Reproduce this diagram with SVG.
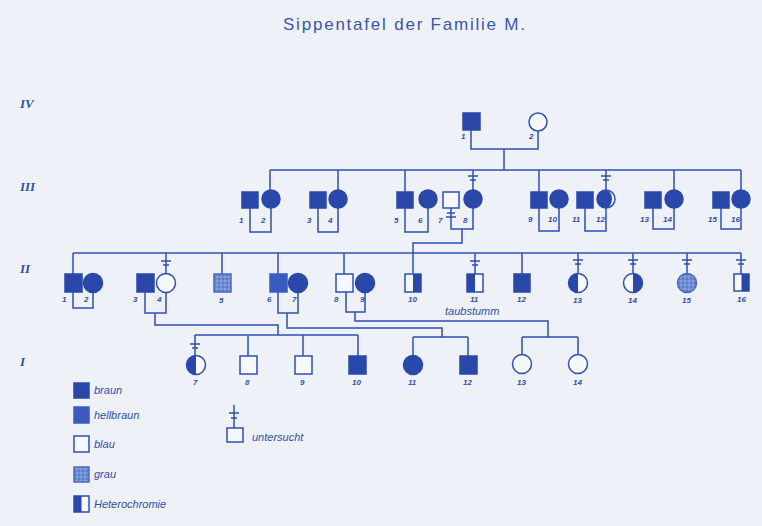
<svg xmlns="http://www.w3.org/2000/svg" width="762" height="526" viewBox="0 0 762 526">
<style>
.ln{fill:none;stroke:#2f4fb4;stroke-width:1.5}
.f{fill:#2a48aa;stroke:#2a48aa;stroke-width:1.5}
.h{fill:#3a5cc0;stroke:#3a5cc0;stroke-width:1.5}
.o{fill:#f6f8fc;stroke:#2f4fb4;stroke-width:1.5}
.g{fill:url(#stip);stroke:#4a68c0;stroke-width:1.5}
.hf{fill:#2a48aa;stroke:none}
.n{font-family:"Liberation Sans",Arial,sans-serif;font-style:italic;font-weight:bold;font-size:8px;fill:#2f4fb4}
.lg{font-family:"Liberation Sans",Arial,sans-serif;font-style:italic;font-size:11px;fill:#2f4fb4}
.gen{font-family:"Liberation Serif",serif;font-style:italic;font-weight:bold;font-size:13px;fill:#2f4fb4}
</style>
<defs>
<pattern id="stip" width="4" height="4" patternUnits="userSpaceOnUse">
<rect width="4" height="4" fill="#6f8bd2"/>
<circle cx="1" cy="1" r="0.8" fill="#a9bbe6"/>
<circle cx="3" cy="3" r="0.8" fill="#4d6cc4"/>
</pattern>
<path id="mk" d="M-5,0H5M-3,4H3" class="ln"/>
</defs>
<rect width="762" height="526" fill="#eef2f8"/>
<text x="283" y="30" font-family="'Liberation Sans',Arial,sans-serif" font-size="17" fill="#3a55b0" textLength="242">Sippentafel der Familie M.</text>

<g id="gen-labels">
<text class="gen" x="20" y="108">IV</text>
<text class="gen" x="20" y="191">III</text>
<text class="gen" x="20" y="273">II</text>
<text class="gen" x="20" y="366">I</text>
</g>

<g id="connectors">
<!-- Gen IV -->
<path class="ln" d="M471,130V149H538V131M504,149V170"/>
<path class="ln" d="M270,170H741"/>
<path class="ln" d="M270,170V190M338,170V190M405,170V192M473,170V190M539,170V192M606,170V190M674,170V190M741,170V190"/>
<use href="#mk" x="473" y="176"/>
<use href="#mk" x="606" y="176"/>
<!-- Gen III brackets -->
<path class="ln" d="M250,208V232H271V208"/>
<path class="ln" d="M318,208V232H338V208"/>
<path class="ln" d="M405,208V232H428V208"/>
<path class="ln" d="M451,208V222M447,213H455M446,217H456M451,222V229H473V208"/>
<path class="ln" d="M462,229V243H413V273"/>
<path class="ln" d="M539,208V231H559V208"/>
<path class="ln" d="M585,208V231H606V208"/>
<path class="ln" d="M653,208V229H674V208"/>
<path class="ln" d="M721,208V229H741V208"/>
<!-- Gen II sibship -->
<path class="ln" d="M73,253H741"/>
<path class="ln" d="M73,253V274M166,253V273M222,253V274M278,253V274M344,253V274M475,253V274M522,253V274M578,253V273M633,253V273M687,253V273M741,253V274"/>
<use href="#mk" x="166" y="261"/>
<use href="#mk" x="475" y="261"/>
<use href="#mk" x="578" y="260"/>
<use href="#mk" x="633" y="260"/>
<use href="#mk" x="687" y="260"/>
<use href="#mk" x="741" y="260"/>
<!-- Gen II brackets and descents -->
<path class="ln" d="M73,292V308H93V292"/>
<path class="ln" d="M145,292V313H166V292"/>
<path class="ln" d="M155,313V325H278V335"/>
<path class="ln" d="M278,292V313H298V292"/>
<path class="ln" d="M287,313V328H442V337"/>
<path class="ln" d="M346,292V312H365V292"/>
<path class="ln" d="M355,312V321H548V337"/>
<!-- Gen I sibships -->
<path class="ln" d="M195,335H358M195,335V355M248,335V356M303,335V356M358,335V356"/>
<use href="#mk" x="195" y="344"/>
<path class="ln" d="M413,337H468M413,337V355M468,337V356"/>
<path class="ln" d="M522,337H578M522,337V354M578,337V354"/>
</g>

<!-- Gen IV -->
<g id="IV-1"><rect class="f" x="463" y="113" width="17" height="17"/><text class="n" x="461" y="139">1</text></g>
<g id="IV-2"><circle class="o" cx="538" cy="122" r="9"/><text class="n" x="529" y="139">2</text></g>

<!-- Gen III -->
<g id="III-1"><rect class="f" x="242" y="192" width="16" height="16"/><text class="n" x="239" y="223">1</text></g>
<g id="III-2"><circle class="f" cx="271" cy="199" r="9"/><text class="n" x="261" y="223">2</text></g>
<g id="III-3"><rect class="f" x="310" y="192" width="16" height="16"/><text class="n" x="307" y="223">3</text></g>
<g id="III-4"><circle class="f" cx="338" cy="199" r="9"/><text class="n" x="328" y="223">4</text></g>
<g id="III-5"><rect class="f" x="397" y="192" width="16" height="16"/><text class="n" x="394" y="223">5</text></g>
<g id="III-6"><circle class="f" cx="428" cy="199" r="9"/><text class="n" x="418" y="223">6</text></g>
<g id="III-7"><rect class="o" x="443" y="192" width="16" height="16"/><text class="n" x="438" y="223">7</text></g>
<g id="III-8"><circle class="f" cx="473" cy="199" r="9"/><text class="n" x="463" y="223">8</text></g>
<g id="III-9"><rect class="f" x="531" y="192" width="16" height="16"/><text class="n" x="528" y="222">9</text></g>
<g id="III-10"><circle class="f" cx="559" cy="199" r="9"/><text class="n" x="548" y="222">10</text></g>
<g id="III-11"><rect class="f" x="577" y="192" width="16" height="16"/><text class="n" x="572" y="222">11</text></g>
<g id="III-12"><circle class="o" cx="606" cy="199" r="9"/><path class="hf" d="M606,190A9,9 0 0 0 606,208A6,9 0 0 0 606,190Z"/><text class="n" x="596" y="222">12</text></g>
<g id="III-13"><rect class="f" x="645" y="192" width="16" height="16"/><text class="n" x="640" y="222">13</text></g>
<g id="III-14"><circle class="f" cx="674" cy="199" r="9"/><text class="n" x="663" y="222">14</text></g>
<g id="III-15"><rect class="f" x="713" y="192" width="16" height="16"/><text class="n" x="708" y="222">15</text></g>
<g id="III-16"><circle class="f" cx="741" cy="199" r="9"/><text class="n" x="731" y="222">16</text></g>

<!-- Gen II -->
<g id="II-1"><rect class="f" x="65" y="274" width="17" height="18"/><text class="n" x="62" y="302">1</text></g>
<g id="II-2"><circle class="f" cx="93" cy="283" r="9.5"/><text class="n" x="84" y="302">2</text></g>
<g id="II-3"><rect class="f" x="137" y="274" width="17" height="18"/><text class="n" x="133" y="302">3</text></g>
<g id="II-4"><circle class="o" cx="166" cy="283" r="9.5"/><text class="n" x="157" y="302">4</text></g>
<g id="II-5"><rect class="g" x="214" y="274" width="17" height="18"/><text class="n" x="219" y="303">5</text></g>
<g id="II-6"><rect class="h" x="270" y="274" width="17" height="18"/><text class="n" x="267" y="302">6</text></g>
<g id="II-7"><circle class="f" cx="298" cy="283" r="9.5"/><text class="n" x="292" y="302">7</text></g>
<g id="II-8"><rect class="o" x="336" y="274" width="17" height="18"/><text class="n" x="334" y="302">8</text></g>
<g id="II-9"><circle class="f" cx="365" cy="283" r="9.5"/><text class="n" x="360" y="302">9</text></g>
<g id="II-10"><rect class="o" x="405" y="274" width="16" height="18"/><rect class="hf" x="413" y="274" width="8" height="18"/><text class="n" x="408" y="302">10</text></g>
<g id="II-11"><rect class="o" x="467" y="274" width="16" height="18"/><rect class="hf" x="467" y="274" width="8" height="18"/><text class="n" x="470" y="302">11</text>
<text class="lg" x="445" y="315" font-size="10">taubstumm</text></g>
<g id="II-12"><rect class="f" x="514" y="274" width="16" height="18"/><text class="n" x="517" y="302">12</text></g>
<g id="II-13"><circle class="o" cx="578" cy="283" r="9.5"/><path class="hf" d="M578,273.5A9.5,9.5 0 0 0 578,292.5Z"/><text class="n" x="573" y="303">13</text></g>
<g id="II-14"><circle class="o" cx="633" cy="283" r="9.5"/><path class="hf" d="M633,273.5A9.5,9.5 0 0 1 633,292.5Z"/><text class="n" x="628" y="303">14</text></g>
<g id="II-15"><circle class="g" cx="687" cy="283" r="9.5"/><text class="n" x="682" y="303">15</text></g>
<g id="II-16"><rect class="o" x="734" y="274" width="15" height="17"/><rect class="hf" x="741.5" y="274" width="7.5" height="17"/><text class="n" x="737" y="302">16</text></g>

<!-- Gen I -->
<g id="I-7"><circle class="o" cx="196" cy="365" r="9.5"/><path class="hf" d="M196,355.5A9.5,9.5 0 0 0 196,374.5Z"/><text class="n" x="193" y="385">7</text></g>
<g id="I-8"><rect class="o" x="240" y="356" width="17" height="18"/><text class="n" x="245" y="385">8</text></g>
<g id="I-9"><rect class="o" x="295" y="356" width="17" height="18"/><text class="n" x="300" y="385">9</text></g>
<g id="I-10"><rect class="f" x="349" y="356" width="17" height="18"/><text class="n" x="352" y="385">10</text></g>
<g id="I-11"><circle class="f" cx="413" cy="365" r="9.5"/><text class="n" x="408" y="385">11</text></g>
<g id="I-12"><rect class="f" x="460" y="356" width="17" height="18"/><text class="n" x="463" y="385">12</text></g>
<g id="I-13"><circle class="o" cx="522" cy="364" r="9.5"/><text class="n" x="517" y="385">13</text></g>
<g id="I-14"><circle class="o" cx="578" cy="364" r="9.5"/><text class="n" x="573" y="385">14</text></g>

<!-- Legend -->
<g id="legend">
<rect class="f" x="74" y="383" width="15" height="15"/><text class="lg" x="94" y="394">braun</text>
<rect class="h" x="74" y="407" width="15" height="16"/><text class="lg" x="94" y="419">hellbraun</text>
<rect class="o" x="74" y="436" width="15" height="16"/><text class="lg" x="94" y="448">blau</text>
<rect class="g" x="74" y="467" width="15" height="15"/><text class="lg" x="94" y="478">grau</text>
<rect class="o" x="74" y="496" width="15" height="16"/><rect class="hf" x="74" y="496" width="7.5" height="16"/><text class="lg" x="94" y="508">Heterochromie</text>
<path class="ln" d="M234,405V428M229,413H239M231,418H237"/>
<rect class="o" x="227" y="428" width="16" height="14"/>
<text class="lg" x="252" y="441">untersucht</text>
</g>
</svg>
